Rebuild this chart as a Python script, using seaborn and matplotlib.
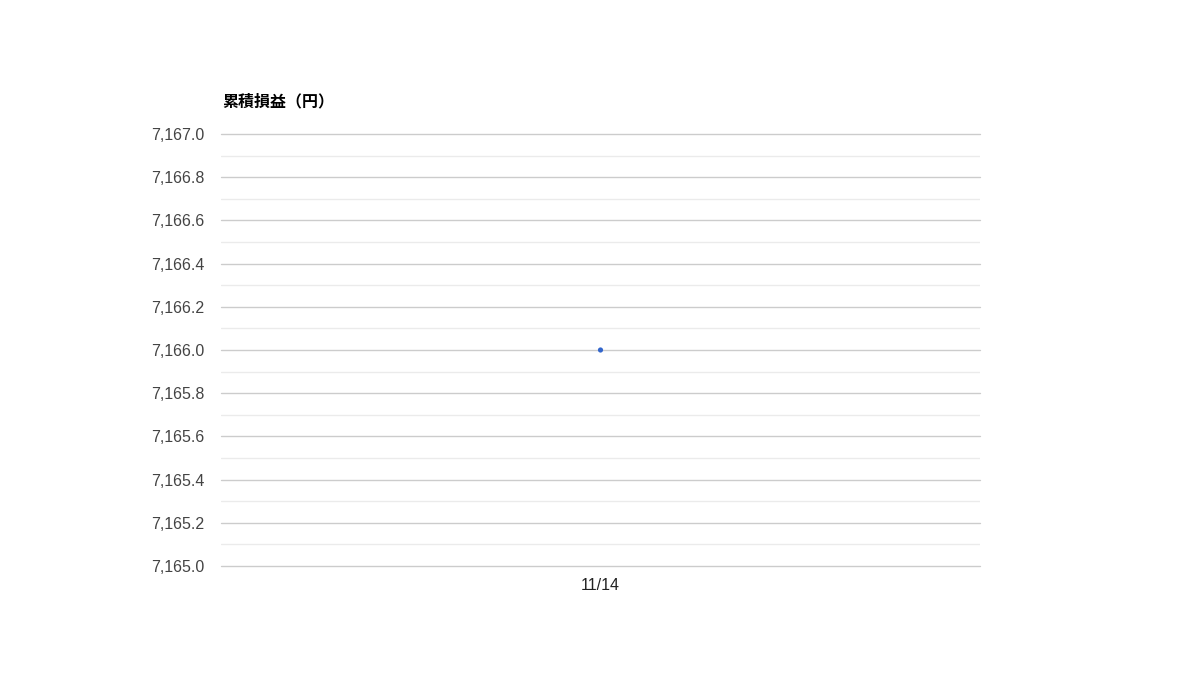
import matplotlib
matplotlib.use("Agg")
import matplotlib.pyplot as plt
import matplotlib.ticker as mticker
import pandas as pd
import seaborn as sns

# データ
dates = ["11/14"]
pnl = [7166.0]

y_min, y_max = 7165.0, 7167.0
title = "累積損益（円）"

df = pd.DataFrame({"date": dates, "pnl": pnl})

sns.set_style("white")
plt.rcParams["font.family"] = ["Liberation Sans", "Noto Sans CJK JP", "DejaVu Sans"]

fig = plt.figure(figsize=(12, 7), dpi=100)
ax = fig.add_axes([221 / 1200, 1 - 566 / 700, 759 / 1200, 432 / 700])

sns.scatterplot(data=df, x="date", y="pnl", ax=ax, color="#3366cc",
                s=14, marker="o", edgecolor="none", zorder=3)

ax.set_ylim(y_min, y_max)
ax.set_xlim(-0.5, len(dates) - 0.5)
ax.yaxis.set_major_locator(mticker.MultipleLocator(0.2))
ax.yaxis.set_minor_locator(mticker.MultipleLocator(0.1))
ax.yaxis.set_major_formatter(mticker.FuncFormatter(lambda v, p: f"{v:,.1f}"))

ax.grid(which="minor", axis="y", color="#ebebeb", linewidth=1, zorder=0)
ax.grid(which="major", axis="y", color="#cccccc", linewidth=1, zorder=1)
for gl in ax.yaxis.get_gridlines():
    gl.set_clip_on(False)
ax.set_axisbelow(True)
for s in ax.spines.values():
    s.set_visible(False)

ax.tick_params(axis="y", which="both", length=0, pad=12, labelsize=11.5, labelcolor="#444444")
ax.tick_params(axis="x", length=0, pad=9, labelsize=11.5, labelcolor="#222222")
ax.set_xlabel("")
ax.set_ylabel("")

fig.text(222 / 1200, 1 - 101 / 700, title, fontsize=11.5, fontweight="bold",
         family=["Noto Sans CJK JP", "DejaVu Sans"], va="center", ha="left", color="#000000")

fig.savefig("out.png", dpi=100)
